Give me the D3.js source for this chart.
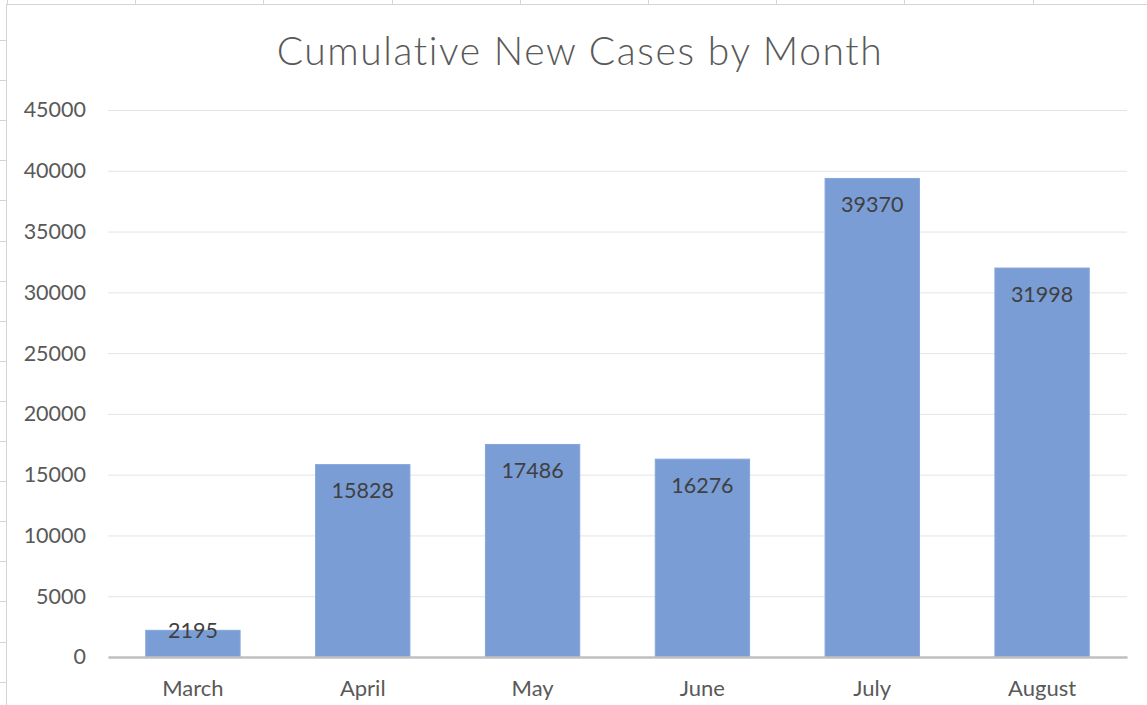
<!DOCTYPE html>
<html>
<head>
<meta charset="utf-8">
<script src="https://cdn.jsdelivr.net/npm/d3@7"></script>
<style>
  body { margin: 0; background: #fff; }
  svg { display: block; font-family: Lato, "Open Sans", sans-serif; }
</style>
</head>
<body>
<svg id="svg" width="1147" height="705"></svg>
<script>
let months = ["March", "April", "May", "June", "July", "August"];
let cases = [2195, 15828, 17486, 16276, 39370, 31998];
let yMax = 45000;
let title = "Cumulative New Cases by Month";

let svg = d3.select("svg");
let margin = {top: 110, right: 20, bottom: 48, left: 108};
let width = 1147 - margin.left - margin.right;
let height = 705 - margin.top - margin.bottom;

// sheet cell borders behind the chart
let sheet = svg.append("g").attr("stroke", "#d4d4d4").attr("stroke-width", 1);
sheet.append("line").attr("x1", 6).attr("x2", 1147).attr("y1", 4.5).attr("y2", 4.5);
sheet.append("line").attr("x1", 6.5).attr("x2", 6.5).attr("y1", 4).attr("y2", 705);
d3.range(7, 1147, 128.2).forEach(x => {
  sheet.append("line").attr("x1", Math.round(x) + 0.5).attr("x2", Math.round(x) + 0.5).attr("y1", 0).attr("y2", 4);
});
d3.range(40, 705, 40.1).forEach(y => {
  sheet.append("line").attr("x1", 0).attr("x2", 6).attr("y1", Math.round(y) + 0.5).attr("y2", Math.round(y) + 0.5);
});

let g = svg.append("g").attr("transform", "translate(" + margin.left + "," + margin.top + ")");

let x = d3.scaleBand().domain(months).range([0, width]).padding(0);
let y = d3.scaleLinear().domain([0, yMax]).range([height, 0]);
let barWidth = x.bandwidth() / 1.8;

// gridlines
g.append("g")
  .call(d3.axisLeft(y).ticks(9).tickSize(-width).tickFormat(""))
  .call(s => s.select(".domain").remove())
  .call(s => s.selectAll("line").attr("stroke", "#e4e4e4").attr("stroke-width", 1));

// y labels
g.append("g")
  .call(d3.axisLeft(y).ticks(9).tickSize(0).tickPadding(22).tickFormat(d3.format("d")))
  .call(s => s.select(".domain").remove())
  .call(s => s.selectAll("text").attr("fill", "#595959").style("font-size", "21.5px").style("font-family", "Lato, sans-serif"));

// bars
g.selectAll(".bar")
  .data(cases)
  .enter().append("rect")
    .attr("class", "bar")
    .attr("x", (d, i) => x(months[i]) + (x.bandwidth() - barWidth) / 2)
    .attr("width", barWidth)
    .attr("y", d => y(d))
    .attr("height", d => height - y(d))
    .attr("fill", "#7a9dd6")
    .attr("stroke", "#86a6da")
    .attr("stroke-width", 1);

// x axis
g.append("g")
  .attr("transform", "translate(0," + height + ")")
  .call(d3.axisBottom(x).tickSize(0).tickPadding(23))
  .call(s => s.select(".domain").attr("stroke", "#bfbfbf").attr("stroke-width", 2.5))
  .call(s => s.selectAll("text").attr("fill", "#595959").style("font-size", "22px").style("font-family", "Lato, sans-serif"));

// data labels, inside end
g.selectAll(".label")
  .data(cases)
  .enter().append("text")
    .attr("class", "label")
    .attr("x", (d, i) => x(months[i]) + x.bandwidth() / 2)
    .attr("y", d => Math.min(y(d) + 26, height - 27))
    .attr("dy", "0.35em")
    .attr("text-anchor", "middle")
    .attr("fill", "#404040")
    .style("font-size", "21.5px")
    .text(d => d);

// title
svg.append("text")
  .attr("x", 580)
  .attr("y", 65)
  .attr("text-anchor", "middle")
  .attr("fill", "#595959")
  .style("font-size", "39px")
  .style("font-weight", 300)
  .style("letter-spacing", "1.6px")
  .text(title);
</script>
</body>
</html>
